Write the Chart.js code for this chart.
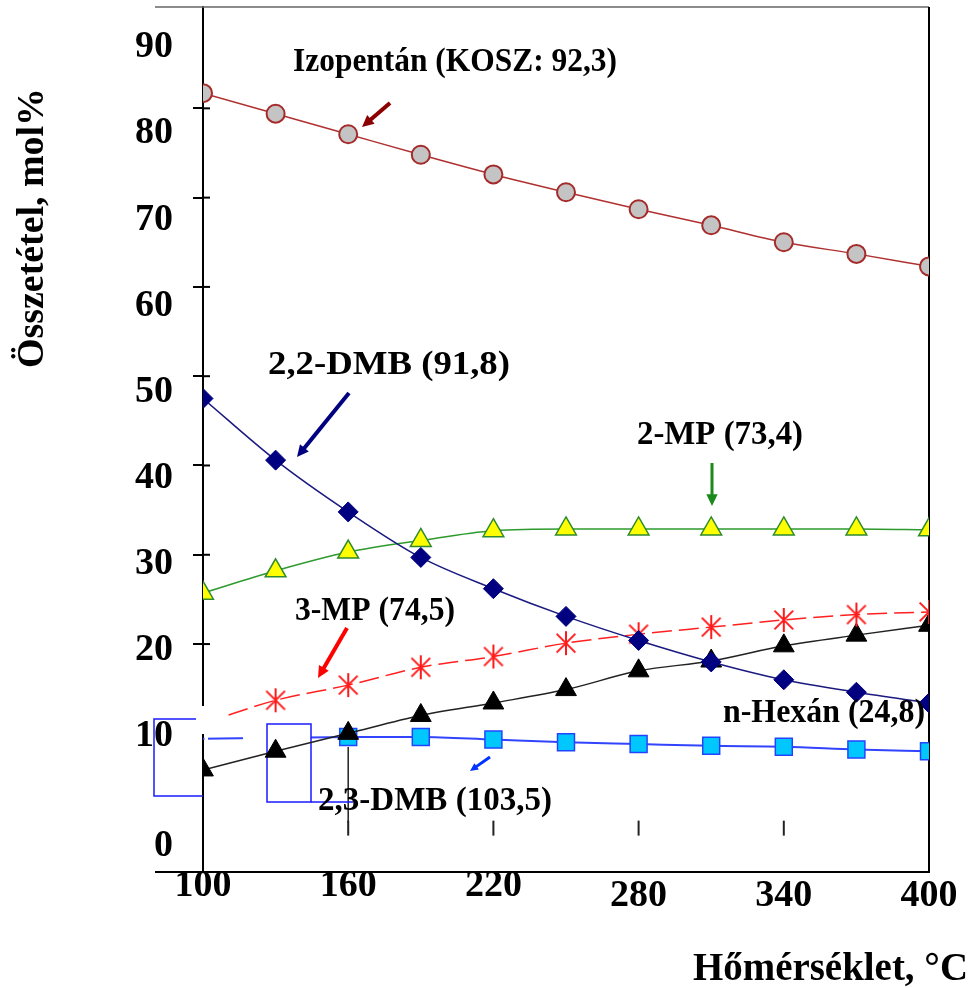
<!DOCTYPE html>
<html>
<head>
<meta charset="utf-8">
<script src="https://cdn.jsdelivr.net/npm/chart.js@4.4.1/dist/chart.umd.min.js"></script>
<style>
  html, body { margin: 0; padding: 0; background: #fff; }
  canvas { display: block; }
</style>
</head>
<body>
<canvas id="chart" width="970" height="988"></canvas>
<script>
// hőmérséklet, °C
const temps = [100, 130, 160, 190, 220, 250, 280, 310, 340, 370, 400];
// összetétel, mol%
const izopentan = [81.7, 79.4, 77.1, 74.8, 72.6, 70.6, 68.7, 66.9, 65.0, 63.7, 62.3];
const dmb22 = [47.5, 40.6, 34.8, 29.7, 26.2, 23.1, 20.4, 18.0, 16.0, 14.6, 13.4];
const mp2 = [25.7, 28.2, 30.3, 31.6, 32.7, 32.9, 32.9, 32.9, 32.9, 32.9, 32.8];
const mp3 = [11.1, 13.7, 15.4, 17.4, 18.6, 20.1, 21.1, 21.9, 22.7, 23.3, 23.6];
const hexan = [5.9, 8.0, 10.0, 12.0, 13.4, 14.9, 17.0, 18.1, 19.8, 21.0, 22.1];
const dmb23 = [9.4, 9.5, 9.6, 9.6, 9.3, 9.0, 8.8, 8.6, 8.5, 8.2, 8.0];

const xTicks = [100, 160, 220, 280, 340, 400];
const yTicks = [0, 10, 20, 30, 40, 50, 60, 70, 80, 90];

const serif = "'Liberation Serif', 'Times New Roman', serif";

// feliratok és nyilak (kézzel elhelyezve, mint az eredeti ábrán)
const notes = [
    { text: 'Izopentán (KOSZ: 92,3)', x: 293, y: 71, w: 324 },
    { text: '2,2-DMB (91,8)', x: 268, y: 374, w: 242 },
    { text: '2-MP (73,4)', x: 637, y: 444, w: 166 },
    { text: '3-MP (74,5)', x: 295, y: 620, w: 160 },
    { text: 'n-Hexán (24,8)', x: 723, y: 722, w: 202 },
    { text: '2,3-DMB (103,5)', x: 318, y: 810, w: 234 }
];
const arrows = [
    { from: [390, 103], to: [362, 127], color: '#8b0000' },
    { from: [349, 393], to: [297, 457], color: '#000080' },
    { from: [712, 463], to: [712, 506], color: '#1a8a1a', width: 3 },
    { from: [347, 628], to: [318, 678], color: '#ff0000' },
    { from: [490, 757], to: [470, 771], color: '#0033ff', width: 3, head: 9 }
];

function asterisk(color, r) {
    const c = document.createElement('canvas');
    c.width = c.height = 2 * r + 4;
    const g = c.getContext('2d');
    const m = r + 2, d = r * 0.78;
    g.strokeStyle = color;
    g.lineWidth = 2;
    g.beginPath();
    g.moveTo(m, m - r); g.lineTo(m, m + r);
    g.moveTo(m - d, m - d); g.lineTo(m + d, m + d);
    g.moveTo(m + d, m - d); g.lineTo(m - d, m + d);
    g.stroke();
    return c;
}

function arrow(ctx, a) {
    const [x1, y1] = a.from, [x2, y2] = a.to;
    const ang = Math.atan2(y2 - y1, x2 - x1);
    const h = a.head || 13;
    ctx.strokeStyle = a.color;
    ctx.fillStyle = a.color;
    ctx.lineWidth = a.width || 4;
    ctx.beginPath();
    ctx.moveTo(x1, y1);
    ctx.lineTo(x2 - Math.cos(ang) * h * 0.8, y2 - Math.sin(ang) * h * 0.8);
    ctx.stroke();
    ctx.beginPath();
    ctx.moveTo(x2, y2);
    ctx.lineTo(x2 - h * Math.cos(ang - 0.45), y2 - h * Math.sin(ang - 0.45));
    ctx.lineTo(x2 - h * Math.cos(ang + 0.45), y2 - h * Math.sin(ang + 0.45));
    ctx.closePath();
    ctx.fill();
}

function line(ctx, x1, y1, x2, y2) {
    ctx.beginPath();
    ctx.moveTo(x1, y1);
    ctx.lineTo(x2, y2);
    ctx.stroke();
}

// szöveg adott szélességre nyújtva / sűrítve
function fitText(ctx, text, x, y, w) {
    const natural = ctx.measureText(text).width;
    ctx.save();
    ctx.translate(x, y);
    ctx.scale(w / natural, 1);
    ctx.fillText(text, 0, 0);
    ctx.restore();
}

const figurePlugin = {
    id: 'figure',
    beforeDatasetsDraw(chart) {
        const { ctx, chartArea: a, scales } = chart;
        ctx.save();
        // keret
        ctx.strokeStyle = '#666';
        ctx.lineWidth = 1.5;
        line(ctx, 155, a.top, a.right, a.top);
        ctx.strokeStyle = '#000';
        ctx.lineWidth = 2;
        line(ctx, a.right, a.top, a.right, a.bottom);
        line(ctx, 155, a.bottom, a.left, a.bottom);
        // y osztások belső fele
        yTicks.filter(v => v >= 20 && v <= 80).forEach(v => {
            const y = scales.y.getPixelForValue(v);
            line(ctx, a.left, y, a.left + 7, y);
        });
        // belső x osztások
        const y0 = scales.y.getPixelForValue(0);
        ctx.strokeStyle = '#222';
        xTicks.slice(1, -1).forEach(v => {
            const x = scales.x.getPixelForValue(v);
            line(ctx, x, y0 - 2, x, y0 + 13);
        });
        ctx.lineWidth = 1.5;
        line(ctx, scales.x.getPixelForValue(160), 747, scales.x.getPixelForValue(160), y0);
        ctx.restore();
    },
    afterDatasetDraw(chart, args) {
        if (args.index !== 5) return;
        const ctx = chart.ctx;
        ctx.save();
        ctx.fillStyle = '#fff';
        ctx.fillRect(243, 724, 68, 78);
        ctx.strokeStyle = '#1a1aff';
        ctx.lineWidth = 1.5;
        ctx.strokeRect(267, 724, 44, 78);
        line(ctx, 311, 802, 353, 802);
        ctx.restore();
    },
    afterDatasetsDraw(chart) {
        const ctx = chart.ctx;
        ctx.save();
        ctx.fillStyle = '#fff';
        ctx.fillRect(196, 706, 26, 28);
        ctx.fillRect(204.5, 733, 3.5, 12);
        ctx.strokeStyle = '#1a1aff';
        ctx.lineWidth = 1.5;
        ctx.beginPath();
        ctx.moveTo(196, 719);
        ctx.lineTo(154, 719);
        ctx.lineTo(154, 796);
        ctx.lineTo(203, 796);
        ctx.stroke();

        arrows.forEach(a => arrow(ctx, a));

        ctx.fillStyle = '#000';
        ctx.textBaseline = 'alphabetic';
        ctx.textAlign = 'left';
        ctx.font = 'bold 34px ' + serif;
        notes.forEach(n => fitText(ctx, n.text, n.x, n.y, n.w));

        ctx.font = 'bold 39px ' + serif;
        fitText(ctx, 'Hőmérséklet, °C', 693, 980, 275);
        ctx.translate(33, 228);
        ctx.rotate(-Math.PI / 2);
        ctx.textAlign = 'center';
        ctx.textBaseline = 'middle';
        ctx.font = 'bold 38px ' + serif;
        ctx.fillText('Összetétel, mol%', 0, 0, 280);
        ctx.restore();
    }
};

const points = vals => temps.map((t, i) => ({ x: t, y: vals[i] }));

const tickFont = (size, lh) => ({ family: serif, size: size, weight: 'bold', lineHeight: lh });

new Chart(document.getElementById('chart'), {
    type: 'line',
    data: {
        datasets: [
            {
                label: 'Izopentán', data: points(izopentan),
                borderColor: '#b03030', borderWidth: 1.5,
                pointStyle: 'circle', pointRadius: 9, pointBorderWidth: 2,
                pointBackgroundColor: '#c4c4c4', pointBorderColor: '#a52a2a'
            },
            {
                label: '2,2-DMB', data: points(dmb22),
                borderColor: '#1a1a80', borderWidth: 1.5,
                pointStyle: 'rectRot', pointRadius: 10, pointBorderWidth: 1,
                pointBackgroundColor: '#000080', pointBorderColor: '#000080'
            },
            {
                label: '2-MP', data: points(mp2),
                borderColor: '#2e9a2e', borderWidth: 1.5,
                pointStyle: 'triangle', pointRadius: 12, pointBorderWidth: 1.5,
                pointBackgroundColor: '#ffff00', pointBorderColor: '#2e8b2e'
            },
            {
                label: '3-MP', data: points(mp3),
                borderColor: '#ff2020', borderWidth: 1.5, borderDash: [20, 7],
                pointStyle: asterisk('#ff1a1a', 12),
                pointRadius: ctx => ctx.dataIndex === 0 ? 0 : 12
            },
            {
                label: 'n-Hexán', data: points(hexan),
                borderColor: '#222', borderWidth: 1.5,
                pointStyle: 'triangle', pointRadius: 12, pointBorderWidth: 1,
                pointBackgroundColor: '#000', pointBorderColor: '#000'
            },
            {
                label: '2,3-DMB', data: points(dmb23),
                borderColor: '#3344ff', borderWidth: 2,
                pointStyle: 'rect', pointRadius: ctx => ctx.dataIndex < 2 ? 0 : 12, pointBorderWidth: 1.5,
                pointBackgroundColor: '#00c8ff', pointBorderColor: '#2244ff'
            }
        ]
    },
    options: {
        responsive: false,
        animation: false,
        devicePixelRatio: 1,
        layout: { autoPadding: false, padding: { left: 133, right: 41, top: 7, bottom: 68 } },
        elements: { line: { cubicInterpolationMode: 'monotone' } },
        plugins: { legend: { display: false }, tooltip: { enabled: false } },
        scales: {
            x: {
                type: 'linear', position: 'bottom', min: 100, max: 400,
                afterBuildTicks: s => { s.ticks = xTicks.map(v => ({ value: v })); },
                grid: { display: false, drawTicks: false },
                border: { display: true, color: '#000', width: 2 },
                ticks: {
                    padding: 0, maxRotation: 0, autoSkip: false, color: '#000',
                    font: c => tickFont(38, c.tick && c.tick.value >= 280 ? '48px' : '28px')
                }
            },
            y: {
                type: 'linear', position: 'left', weight: 0, min: -5.53, max: 91.35,
                afterBuildTicks: s => { s.ticks = yTicks.map(v => ({ value: v })); },
                afterFit: s => { s.width = 10; },
                grid: {
                    drawOnChartArea: false, drawTicks: true, tickLength: 10, lineWidth: 2,
                    color: c => (c.tick && c.tick.value >= 20 && c.tick.value <= 80) ? '#000' : 'rgba(0,0,0,0)'
                },
                border: { display: true, color: '#000', width: 2 },
                ticks: { display: false }
            },
            yLab: {
                type: 'linear', position: 'left', weight: 1, min: -5.74, max: 94.70,
                afterBuildTicks: s => { s.ticks = yTicks.map(v => ({ value: v })); },
                afterFit: s => { s.width = 60; },
                grid: { display: false, drawTicks: true, tickLength: 20 },
                border: { display: false },
                ticks: {
                    padding: 0, color: '#000', autoSkip: false,
                    callback: v => v === 0 ? ['', '0'] : String(v),
                    font: c => tickFont(38, c.tick && c.tick.value === 0 ? '48px' : '10px')
                }
            }
        }
    },
    plugins: [figurePlugin]
});
</script>
</body>
</html>
